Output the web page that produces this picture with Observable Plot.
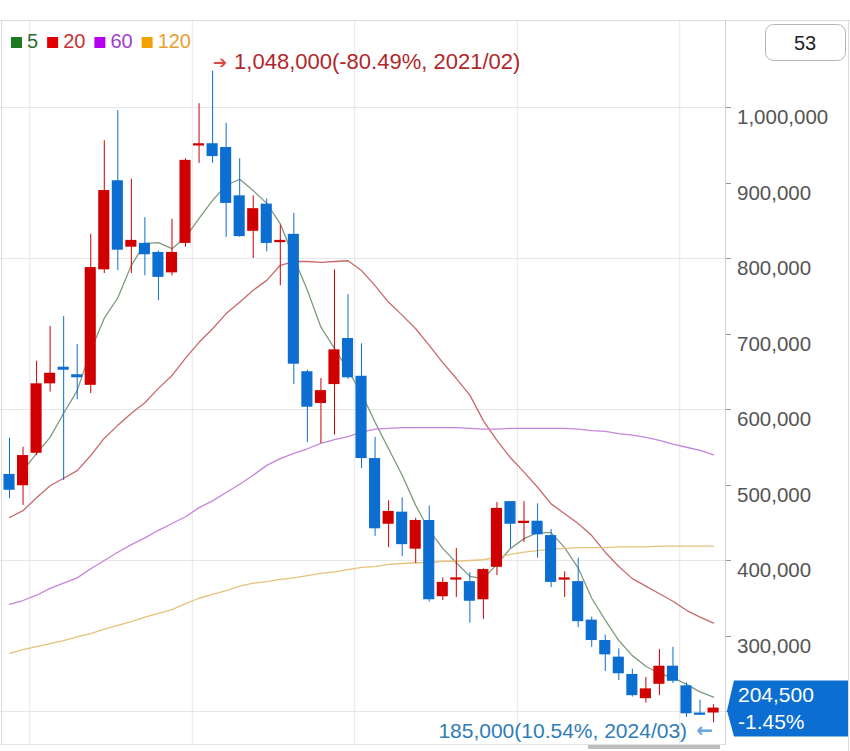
<!DOCTYPE html>
<html><head><meta charset="utf-8">
<script src="https://cdn.jsdelivr.net/npm/d3@7"></script>
<script src="https://cdn.jsdelivr.net/npm/@observablehq/plot@0.6"></script>
<style>html,body{margin:0;padding:0;background:#fff;overflow:hidden}#chart{width:850px;height:751px}</style>
</head><body><div id="chart"></div>
<script>
const months = ["2019/11","2019/12",
"2020/01","2020/02","2020/03","2020/04","2020/05","2020/06","2020/07","2020/08","2020/09","2020/10","2020/11","2020/12",
"2021/01","2021/02","2021/03","2021/04","2021/05","2021/06","2021/07","2021/08","2021/09","2021/10","2021/11","2021/12",
"2022/01","2022/02","2022/03","2022/04","2022/05","2022/06","2022/07","2022/08","2022/09","2022/10","2022/11","2022/12",
"2023/01","2023/02","2023/03","2023/04","2023/05","2023/06","2023/07","2023/08","2023/09","2023/10","2023/11","2023/12",
"2024/01","2024/02","2024/03"];
const open  = [514000,499000,542000,634000,656000,646000,632000,785000,903000,815000,820000,808000,781000,820000,949000,952000,947000,883000,836000,872000,821000,832000,650000,608000,633000,694000,644000,535000,448000,464000,415000,453000,352000,374000,372000,348000,391000,478000,449000,452000,433000,374000,372000,321000,294000,272000,249000,217000,236000,260000,234000,198000,198000];
const high  = [562000,550000,664000,710000,723000,686000,832000,956000,996000,905000,854000,810000,852000,932000,1005000,1048000,979000,932000,883000,879000,844000,860000,652000,641000,785000,752000,687000,563000,479000,483000,456000,472000,377000,416000,384000,389000,477000,478000,478000,475000,441000,385000,403000,325000,301000,283000,256000,245000,282000,285000,238000,215000,209000];
const low   = [482000,473000,539000,623000,506000,613000,621000,780000,784000,780000,777000,744000,777000,815000,926000,926000,828000,828000,800000,809000,764000,633000,556000,555000,566000,640000,522000,432000,417000,405000,396000,345000,347000,351000,317000,322000,380000,416000,424000,403000,364000,351000,311000,285000,253000,241000,219000,211000,221000,237000,192000,195000,185000];
const close = [493000,539000,634000,648000,652000,642000,788000,890000,811000,824000,805000,775000,808000,930000,952000,935000,873000,829000,866000,820000,824000,660000,603000,625000,679000,642000,535000,442000,465000,421000,453000,348000,371000,377000,346000,388000,469000,448000,452000,434000,371000,377000,319000,294000,275000,250000,221000,230000,260000,240000,197000,195000,204500];
const ma5   = [null,519000,542000,563000,595000,625000,678000,721000,748000,791000,820000,821000,813000,828000,853000,877000,897000,905000,890000,873000,846000,801000,758000,709000,681000,652000,621000,583000,548000,513000,473000,440000,416000,397000,379000,376000,395000,416000,429000,437000,437000,417000,390000,350000,321000,294000,274000,260000,250000,245000,236000,226000,219000];
const ma20  = [457000,466000,483000,499000,509000,519000,539000,562000,579000,595000,609000,628000,645000,668000,689000,707000,727000,742000,758000,771000,791000,796000,796000,795000,796000,797000,784000,764000,742000,725000,707000,685000,662000,641000,619000,585000,559000,536000,517000,497000,475000,462000,449000,433000,411000,392000,376000,366000,356000,346000,334000,325000,317000];
const ma60  = [342000,347000,354000,363000,370000,377000,389000,400000,411000,421000,430000,440000,449000,458000,470000,479000,490000,501000,513000,526000,535000,542000,548000,555000,560000,564000,570000,574000,575000,576000,576000,576000,576000,576000,575000,574000,574000,575000,575000,575000,575000,575000,574000,572000,571000,568000,566000,563000,559000,554000,550000,546000,540000];
const ma120 = [277000,282000,286000,290000,294000,299000,303000,309000,314000,319000,325000,330000,335000,343000,350000,355000,360000,366000,370000,372000,375000,377000,380000,383000,385000,388000,391000,392000,395000,396000,397000,397000,399000,399000,400000,401000,404000,408000,411000,413000,415000,416000,417000,417000,417000,418000,418000,418000,419000,419000,419000,419000,419000];
const yTicks = [200000,300000,400000,500000,600000,700000,800000,900000,1000000];
const yLabelTicks = [300000,400000,500000,600000,700000,800000,900000,1000000];
const gridValues = [200000,400000,600000,800000,1000000];
const maPeriods = ["5","20","60","120"];
const maLineColors = ["#7d9c7d","#c86a6c","#c684dc","#e6c27c"];
const maLegendColors = ["#1e7a1e","#e00000","#b400f0","#f2a200"];
const maTextColors = ["#2f6f2f","#c83030","#a040d0","#e8a030"];
const candleCount = "53";
const lastChangeLabel = "-1.45%";

const RED = "#d00000", BLUE = "#0b6ed0";
const candles = months.map((m, i) => ({i, month: m, open: open[i], high: high[i], low: low[i], close: close[i]}));
const col = d => d.close >= d.open ? RED : BLUE;
const yearBounds = months.map((m, i) => m.endsWith("/01") ? i - 0.5 : null).filter(v => v !== null);
const maSeries = [ma5, ma20, ma60, ma120].map(arr => arr.map((v, i) => ({i, v})).filter(d => d.v != null));

const FONT = "'Liberation Sans', Arial, sans-serif";
const plot = Plot.plot({
  width: 850, height: 751,
  marginLeft: 0, marginRight: 125, marginTop: 20, marginBottom: 6,
  x: {type: "linear", domain: [-0.665, 52.88], range: [0, 725], axis: null},
  y: {type: "linear", domain: [200000, 1000000], range: [711, 107], axis: null},
  style: {fontFamily: FONT, background: "#fff", overflow: "visible"},
  marks: [
    Plot.ruleY(gridValues, {stroke: "#e6e6e6"}),
    Plot.ruleX(yearBounds, {stroke: "#e6e6e6"}),
    ...maSeries.map((s, k) => Plot.line(s, {x: "i", y: "v", stroke: maLineColors[k], strokeWidth: 1.3})),
    Plot.ruleX(candles, {x: "i", y1: "low", y2: "high", stroke: col, strokeWidth: 1}),
    Plot.rect(candles, {x1: d => d.i - 0.41, x2: d => d.i + 0.41, y1: "open", y2: "close", fill: col})
  ]
});
document.getElementById("chart").appendChild(plot);

const svg = d3.select(plot);
const xs = plot.scale("x"), ys = plot.scale("y");
const g = svg.append("g").attr("font-family", FONT).attr("text-anchor", "start");
const line = (x1, y1, x2, y2, c) => g.append("line").attr("x1", x1).attr("y1", y1).attr("x2", x2).attr("y2", y2).attr("stroke", c);
line(0, 20.5, 850, 20.5, "#dcdcdc");
line(1.5, 20, 1.5, 745, "#dcdcdc");
line(725.5, 20, 725.5, 745, "#d0d0d0");
line(848.5, 20, 848.5, 751, "#dcdcdc");
line(0, 744.5, 725, 744.5, "#e2e2e2");
g.append("rect").attr("x", 588).attr("y", 745).attr("width", 132).attr("height", 4).attr("fill", "#bdbdbd");

const fmt = d3.format(",");
yTicks.forEach(v => {
  const yy = Math.round(ys.apply(v)) + 0.5;
  line(726, yy, 731, yy, "#999");
});
yLabelTicks.forEach(v => {
  const yy = Math.round(ys.apply(v)) + 0.5;
  g.append("text").attr("x", 737).attr("y", yy + 9).attr("dy", "0.35em").attr("font-size", 20.5).attr("fill", "#555").text(fmt(v));
});

// legend
let lx = 11;
maPeriods.forEach((p, k) => {
  g.append("rect").attr("x", lx).attr("y", 37).attr("width", 11).attr("height", 11).attr("fill", maLegendColors[k]);
  const t = g.append("text").attr("x", lx + 16).attr("y", 41).attr("dy", "0.35em").attr("font-size", 20).attr("fill", maTextColors[k]).text(p);
  lx += 16 + t.node().getComputedTextLength() + 9;
});

// count box
g.append("rect").attr("x", 765.5).attr("y", 24.5).attr("width", 80).attr("height", 36).attr("rx", 8).attr("fill", "#fff").attr("stroke", "#b5b5b5");
g.append("text").attr("x", 805).attr("y", 43).attr("dy", "0.35em").attr("text-anchor", "middle").attr("font-size", 20).attr("fill", "#222").text(candleCount);

// max / min annotations
const last = candles[candles.length - 1];
const maxC = candles.reduce((a, b) => b.high > a.high ? b : a);
const minC = candles.reduce((a, b) => b.low < a.low ? b : a);
const pct = v => v.toFixed(2) + "%";
const hx = xs.apply(maxC.i), hy = ys.apply(maxC.high) - 9;
g.append("text").attr("x", hx + 1).attr("y", hy).attr("dy", "0.35em").attr("font-family", "'DejaVu Sans'").attr("font-size", 17).attr("fill", "#e04848").text("➔");
g.append("text").attr("x", hx + 22).attr("y", hy).attr("dy", "0.35em").attr("font-size", 22).attr("fill", "#b0282c")
  .text(`${fmt(maxC.high)}(${pct((last.close - maxC.high) / maxC.high * 100)}, ${maxC.month})`);

const mx = xs.apply(minC.i), my = ys.apply(minC.low) + 8;
g.append("text").attr("x", mx).attr("y", my).attr("dy", "0.35em").attr("text-anchor", "end").attr("font-family", "'DejaVu Sans'").attr("font-size", 20).attr("font-weight", "bold").attr("fill", "#6aa6da").text("←");
g.append("text").attr("x", mx - 26).attr("y", my).attr("dy", "0.35em").attr("text-anchor", "end").attr("font-size", 21).attr("fill", "#2f7db5")
  .text(`${fmt(minC.low)}(${pct((last.close - minC.low) / minC.low * 100)}, ${minC.month})`);

// price box
const yc = ys.apply(last.close);
g.append("path").attr("d", `M727,${yc + 3} L734,${yc - 27} L848,${yc - 27} L848,${yc + 29} L734,${yc + 29} Z`).attr("fill", "#0b6ed0");
g.append("text").attr("x", 738).attr("y", yc - 13).attr("dy", "0.35em").attr("font-size", 21).attr("fill", "#fff").text(fmt(last.close));
g.append("text").attr("x", 738).attr("y", yc + 14).attr("dy", "0.35em").attr("font-size", 21).attr("fill", "#fff").text(lastChangeLabel);
</script>
</body></html>
